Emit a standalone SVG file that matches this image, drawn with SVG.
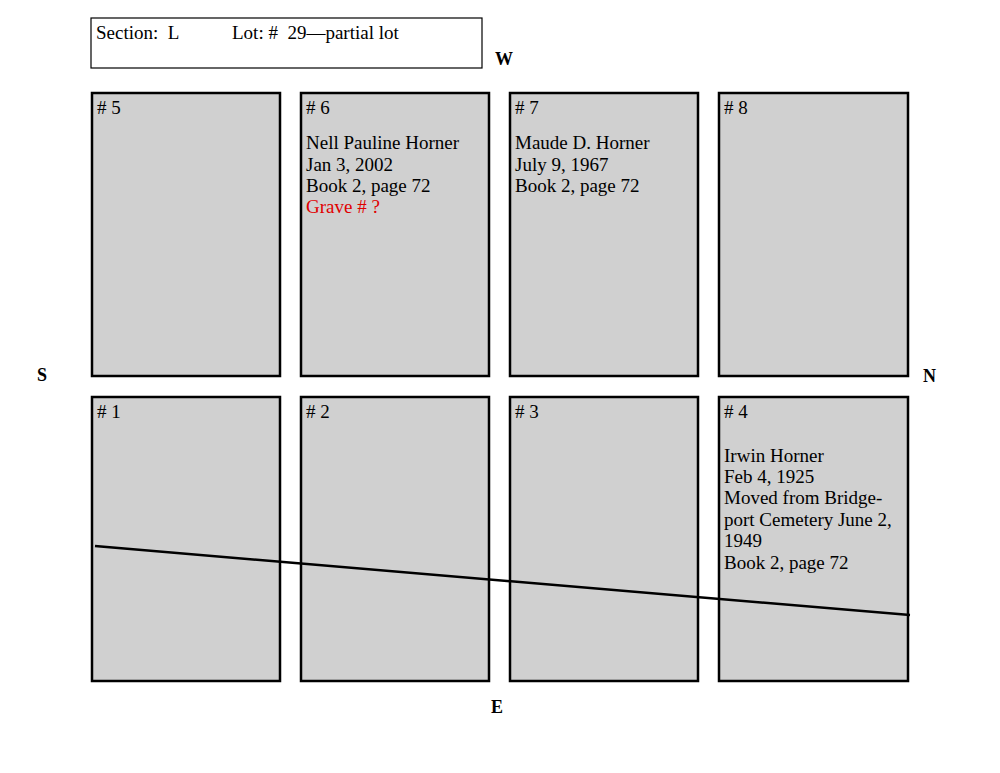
<svg xmlns="http://www.w3.org/2000/svg" width="1000" height="773" viewBox="0 0 1000 773">
<style>
.g{fill:#d0d0d0;stroke:#000;stroke-width:2.5}
text{font-family:"Liberation Serif",serif;font-size:19px;fill:#000;white-space:pre}
.b{font-weight:bold;font-size:18px}
</style>
<rect width="1000" height="773" fill="#fff"/>
<g id="header"><rect x="91" y="18" width="391" height="50" fill="#fff" stroke="#000" stroke-width="1.2"/>
<text x="96" y="39" xml:space="preserve">Section:  L</text><text x="232" y="39" xml:space="preserve">Lot: #  29—partial lot</text></g>
<text class="b" x="495" y="65">W</text>
<text class="b" x="37" y="381">S</text>
<text class="b" x="923" y="382">N</text>
<text class="b" x="491" y="713">E</text>
<g id="g5"><rect class="g" x="92" y="93" width="188" height="283"/><text x="97" y="114"># 5</text></g>
<g id="g6"><rect class="g" x="301" y="93" width="188" height="283"/><text x="306" y="149">Nell Pauline Horner</text><text x="306" y="114"># 6</text>
<text x="306" y="171">Jan 3, 2002</text><text x="306" y="192">Book 2, page 72</text><text x="306" y="213" style="fill:#e00000">Grave # ?</text></g>
<g id="g7"><rect class="g" x="510" y="93" width="188" height="283"/><text x="515" y="114"># 7</text>
<text x="515" y="149">Maude D. Horner</text><text x="515" y="171">July 9, 1967</text><text x="515" y="192">Book 2, page 72</text></g>
<g id="g8"><rect class="g" x="719" y="93" width="189" height="283"/><text x="724" y="114"># 8</text></g>
<g id="g1"><rect class="g" x="92" y="397" width="188" height="284"/><text x="97" y="418"># 1</text></g>
<g id="g2"><rect class="g" x="301" y="397" width="188" height="284"/><text x="306" y="418"># 2</text></g>
<g id="g3"><rect class="g" x="510" y="397" width="188" height="284"/><text x="515" y="418"># 3</text></g>
<g id="g4"><rect class="g" x="719" y="397" width="189" height="284"/><text x="724" y="418"># 4</text>
<text x="724" y="462">Irwin Horner</text><text x="724" y="483">Feb 4, 1925</text><text x="724" y="504">Moved from Bridge-</text><text x="724" y="526">port Cemetery June 2,</text><text x="724" y="547">1949</text><text x="724" y="569">Book 2, page 72</text></g>
<g id="connectors"><line x1="95" y1="546" x2="910" y2="615" stroke="#000" stroke-width="2.5"/></g>
</svg>
